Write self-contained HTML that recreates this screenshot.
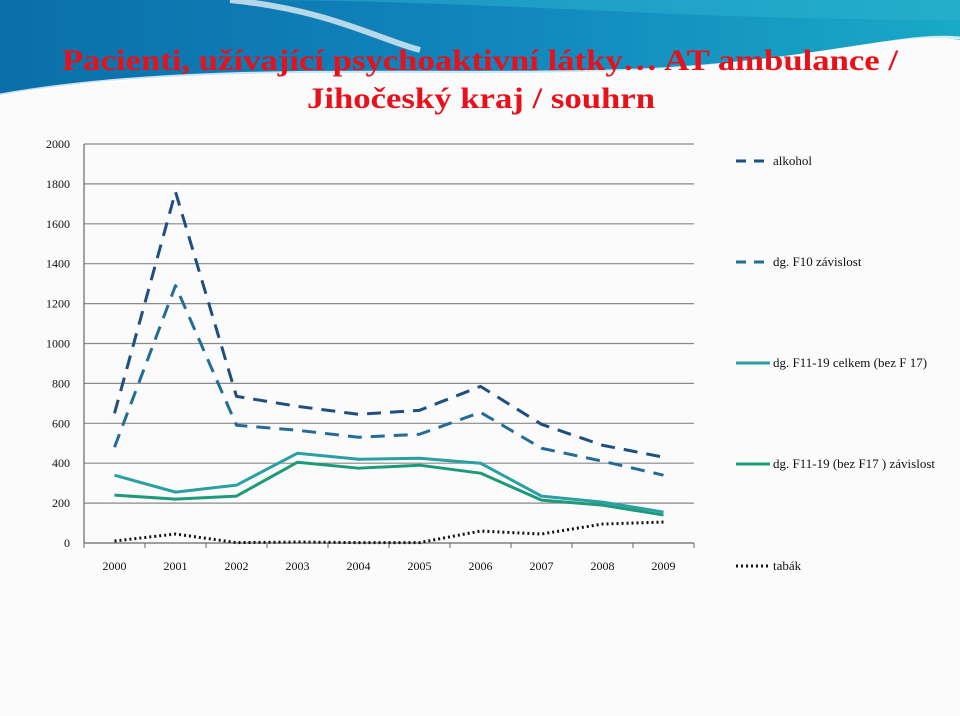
<!DOCTYPE html>
<html><head><meta charset="utf-8"><style>
body{margin:0;width:960px;height:716px;overflow:hidden;background:#fbfbfb;font-family:"Liberation Serif",serif}
svg{display:block}
</style></head><body>
<svg width="960" height="716" viewBox="0 0 960 716">
<defs>
<linearGradient id="hg" x1="0" y1="0" x2="1" y2="0">
<stop offset="0" stop-color="#0a6fa8"/><stop offset="0.5" stop-color="#1185bd"/><stop offset="1" stop-color="#19a9c6"/>
</linearGradient>
</defs>
<rect x="0" y="0" width="960" height="716" fill="#fbfbfb"/>
<path d="M0 0 H960 V40 C900 30 820 60 640 70 C420 80 200 60 0 95 Z" fill="url(#hg)"/>
<path d="M240 0 C500 0 660 20 960 20 V0 Z" fill="#2bb3d0" opacity="0.5"/>
<path d="M0 95 C200 60 420 78 640 70 C820 62 900 32 960 38" fill="none" stroke="#ffffff" stroke-width="3" opacity="0.8"/>
<path d="M230 0 C330 10 380 40 420 50" fill="none" stroke="#ffffff" stroke-width="6" opacity="0.7"/>
<text x="62" y="70" textLength="836" lengthAdjust="spacingAndGlyphs" font-size="30" font-weight="bold" fill="#e8101a">Pacienti, užívající psychoaktivní látky… AT ambulance /</text>
<text x="307" y="108" textLength="348" lengthAdjust="spacingAndGlyphs" font-size="30" font-weight="bold" fill="#e8101a">Jihočeský kraj / souhrn</text>
<g id="chart"></g>
</svg>
<script>
const years=["2000","2001","2002","2003","2004","2005","2006","2007","2008","2009"];
const yTicks=[0,200,400,600,800,1000,1200,1400,1600,1800,2000];
const alkohol=[650,1760,735,685,645,665,785,595,490,430];
const f10=[480,1290,590,565,530,545,655,475,410,340];
const f11celkem=[340,255,290,450,420,425,400,235,205,155];
const f11zav=[240,220,235,405,375,390,350,215,190,140];
const tabak=[10,45,2,5,2,2,60,45,95,105];
const NS="http://www.w3.org/2000/svg";
const g=document.getElementById('chart');
const L=84,R=694,T=144,B=543;
const xs=i=>L+(R-L)/years.length*(i+0.5);
const ys=v=>B-(B-T)*v/2000;
function mk(t,a,p){const e=document.createElementNS(NS,t);for(const k in a)e.setAttribute(k,a[k]);(p||g).appendChild(e);return e;}
yTicks.forEach(v=>{
  const y=ys(v);
  if(v>0){const ln=mk('line',{x1:L,x2:R,y1:y,y2:y,stroke:'#8a8a8a','stroke-width':1.2});
  
  }
  const t=mk('text',{x:L-14,y:y+4,'text-anchor':'end','font-size':12,fill:'#111'});t.textContent=v;
  
  
});
const ax=mk('line',{x1:L,x2:R,y1:B,y2:B,stroke:'#666','stroke-width':1.2});


const ay=mk('line',{x1:L,x2:L,y1:T,y2:B,stroke:'#666','stroke-width':1.2});


years.forEach((yr,i)=>{
  const xb=L+(R-L)/years.length*i;
  mk('line',{x1:xb,x2:xb,y1:B,y2:B+5,stroke:'#666'});
  const t=mk('text',{x:xs(i),y:B+27,'text-anchor':'middle','font-size':12,fill:'#111'});t.textContent=yr;
  
  
});
mk('line',{x1:R,x2:R,y1:B,y2:B+5,stroke:'#666'});
const series=[
 {d:alkohol,c:'#1d4f80',dash:'14,9',w:3,name:'alkohol',ly:161},
 {d:f10,c:'#236c99',dash:'14,9',w:3,name:'dg. F10 závislost',ly:262},
 {d:f11celkem,c:'#2a9fa6',dash:'',w:3,name:'dg. F11-19 celkem (bez F 17)',ly:363},
 {d:f11zav,c:'#1f9a78',dash:'',w:3,name:'dg. F11-19 (bez F17 ) závislost',ly:464},
 {d:tabak,c:'#111',dash:'2,3',w:3,name:'tabák',ly:566}
];
series.forEach((s,k)=>{
  const pts=s.d.map((v,i)=>xs(i)+','+ys(v)).join(' ');
  const pl=mk('polyline',{points:pts,fill:'none',stroke:s.c,'stroke-width':s.w,'stroke-dasharray':s.dash,'stroke-linejoin':'round'});
  
  
  const lg=mk('line',{x1:736,x2:s.dash==='14,9'?766:770,y1:s.ly,y2:s.ly,stroke:s.c,'stroke-width':s.w,'stroke-dasharray':s.dash==='14,9'?'10,8':s.dash});
  
  
  const t=mk('text',{x:773,y:s.ly+4,'font-size':13,fill:'#111'});t.textContent=s.name;
  
  
});
</script>
</body></html>
